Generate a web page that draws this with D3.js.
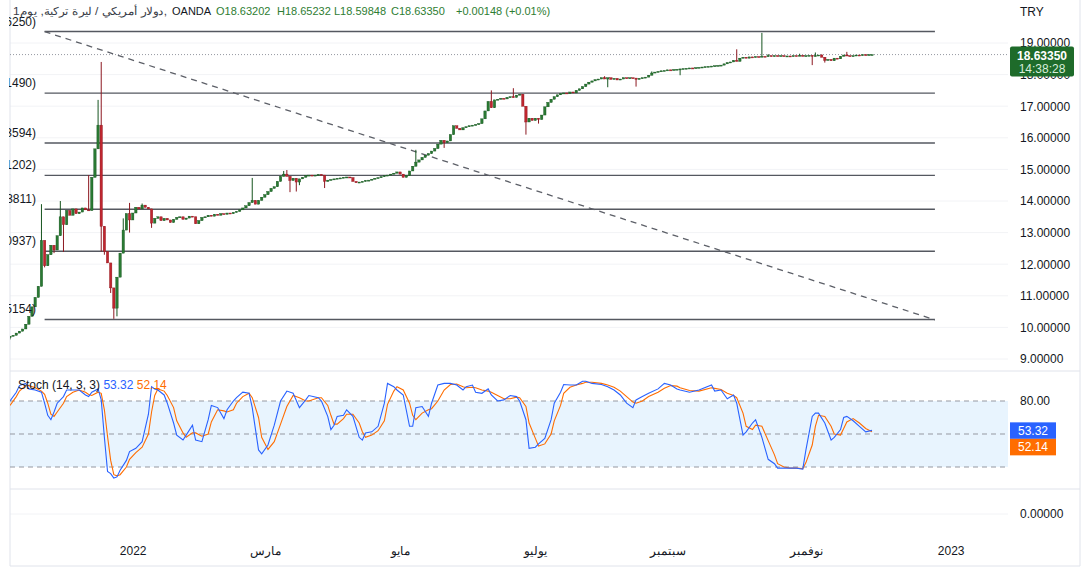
<!DOCTYPE html>
<html>
<head>
<meta charset="utf-8">
<script src="https://cdn.jsdelivr.net/npm/d3@7"></script>
<style>
  body { margin: 0; background: #fff; }
  svg { display: block; font-family: "Liberation Sans", Arial, sans-serif; }
</style>
</head>
<body>
<div id="chart"></div>
<script>
// daily USD/TRY candles, bar 0 = early Nov 2021, last bar = today
const firstOpen = 9.68;
const closes = [
  9.72, 9.75, 9.82, 9.88, 9.95, 10.10, 10.35, 10.65, 10.95, 11.30,
  12.75, 11.95, 12.30, 12.60, 12.45, 12.90, 13.50, 13.25, 13.70, 13.55,
  13.75, 13.60, 13.65, 13.78, 13.72, 13.70, 14.75, 15.65, 16.40, 13.20,
  12.40, 12.04, 11.25, 10.61, 11.59, 12.35, 13.08, 13.60, 13.40, 13.62,
  13.80, 13.75, 13.87, 13.80, 13.75, 13.30, 13.45, 13.50, 13.38, 13.45,
  13.40, 13.32, 13.42, 13.48, 13.50, 13.42, 13.46, 13.52, 13.50, 13.28,
  13.38, 13.48, 13.50, 13.55, 13.52, 13.58, 13.55, 13.60, 13.58, 13.62,
  13.60, 13.64, 13.67, 13.72, 13.78, 13.85, 13.95, 14.02, 13.90, 14.02,
  14.12, 14.20, 14.30, 14.40, 14.45, 14.62, 14.78, 14.85, 14.78, 14.65,
  14.72, 14.60, 14.70, 14.75, 14.80, 14.82, 14.80, 14.82, 14.84, 14.82,
  14.62, 14.66, 14.68, 14.70, 14.72, 14.73, 14.75, 14.76, 14.74, 14.62,
  14.58, 14.60, 14.62, 14.65, 14.66, 14.69, 14.72, 14.74, 14.77, 14.80,
  14.82, 14.85, 14.88, 14.92, 14.85, 14.75, 14.80, 14.95, 15.10, 15.23,
  15.30, 15.38, 15.45, 15.50, 15.58, 15.66, 15.80, 15.92, 15.85, 15.90,
  16.10, 16.38, 16.30, 16.25, 16.32, 16.35, 16.38, 16.40, 16.42, 16.45,
  16.60, 16.85, 17.15, 16.95, 17.20, 17.22, 17.25, 17.23, 17.28, 17.30,
  17.28, 17.35, 17.38, 17.00, 16.50, 16.62, 16.55, 16.62, 16.58, 16.72,
  16.98, 17.12, 17.22, 17.30, 17.36, 17.40, 17.42, 17.40, 17.45, 17.42,
  17.50, 17.55, 17.62, 17.70, 17.76, 17.80, 17.84, 17.86, 17.90, 17.86,
  17.90, 17.85, 17.88, 17.83, 17.86, 17.90, 17.88, 17.90, 17.89, 17.85,
  17.88, 17.90, 17.92, 17.98, 18.05, 18.08, 18.10, 18.12, 18.13, 18.15,
  18.14, 18.16, 18.17, 18.18, 18.19, 18.20, 18.21, 18.20, 18.22, 18.23,
  18.24, 18.25, 18.26, 18.27, 18.28, 18.29, 18.30, 18.34, 18.38, 18.40,
  18.45, 18.42, 18.52, 18.55, 18.52, 18.56, 18.55, 18.57, 18.56, 18.58,
  18.57, 18.60, 18.58, 18.60, 18.59, 18.60, 18.58, 18.59, 18.58, 18.60,
  18.59, 18.61, 18.58, 18.60, 18.61, 18.58, 18.60, 18.62, 18.55, 18.45,
  18.48, 18.44, 18.52, 18.50, 18.58, 18.62, 18.60, 18.58, 18.60, 18.62,
  18.61, 18.63, 18.62, 18.632, 18.6335
];
// [bar, high] and [bar, low] where the wick sticks out of the body
const highWicks = [
  [10, 13.9], [16, 14.0], [25, 14.82], [28, 17.2], [29, 18.4], [36, 13.45], [38, 13.94],
  [42, 13.92], [77, 14.73], [87, 14.95], [88, 14.98], [129, 15.62], [153, 17.5], [160, 17.57],
  [189, 17.95], [204, 18.1], [231, 18.8], [239, 19.32], [241, 18.65], [251, 18.66],
  [256, 18.7], [258, 18.64], [266, 18.72]
];
const lowWicks = [
  [0, 9.62], [11, 11.9], [14, 12.35], [17, 12.39], [29, 12.4], [30, 12.3], [32, 11.09],
  [33, 10.27], [34, 10.35], [38, 13.0], [45, 13.15], [89, 14.28], [91, 14.3], [92, 14.5],
  [100, 14.41], [138, 15.68], [164, 16.1], [168, 16.45], [190, 17.6], [199, 17.62],
  [213, 17.98], [255, 18.3], [259, 18.38]
];

const levels = [19.3625, 17.4149, 15.83594, 14.81202, 13.73811, 12.40937, 10.25154];
const levelBars = [11, 294];
const trendLine = [[11, 19.36], [294, 10.24]];

const priceTicks = [9, 10, 11, 12, 13, 14, 15, 16, 17, 18, 19];
const timeTickBars = [39, 81, 124, 167, 209, 253, 299];
const timeTickLabels = ["2022", "مارس", "مايو", "يوليو", "سبتمبر", "نوفمبر", "2023"];

// Stoch (14, 3, 3)
const stochBars = [
  0, 2, 3, 5, 6, 8, 10, 11, 12, 13,
  14, 15, 17, 18, 20, 22, 24, 25, 26, 28,
  29, 30, 31, 32, 33, 34, 35, 37, 38, 40,
  42, 44, 45, 46, 47, 49, 50, 52, 53, 55,
  56, 58, 59, 61, 63, 64, 66, 68, 69, 71,
  72, 74, 76, 77, 79, 80, 82, 84, 86, 88,
  90, 92, 94, 95, 98, 99, 101, 102, 103, 104,
  106, 107, 109, 111, 112, 113, 115, 117, 119, 120,
  122, 123, 125, 127, 128, 129, 131, 133, 134, 136,
  138, 140, 142, 144, 145, 147, 148, 150, 152, 153,
  155, 157, 159, 161, 162, 164, 165, 167, 168, 170,
  172, 173, 175, 176, 178, 180, 182, 183, 185, 188,
  190, 192, 194, 196, 198, 199, 201, 203, 206, 208,
  210, 212, 213, 216, 219, 223, 224, 226, 228, 230,
  231, 233, 234, 236, 237, 239, 241, 243, 244, 246,
  248, 250, 252, 253, 255, 256, 257, 259, 261, 262,
  264, 265, 266, 268, 270, 272, 274
];
const stochK = [
  80, 88, 94, 96, 91, 90, 88, 78, 67, 63,
  70, 78, 84, 90, 90, 90, 85.5, 84, 88, 91,
  81, 47, 16, 14, 10, 11, 17, 26, 34, 37,
  43, 68, 93, 91, 90, 85.5, 78, 60, 49, 44.5,
  49, 58, 44.5, 43, 63, 76, 74, 64, 72, 80,
  83, 88, 87, 74, 35.5, 32, 40, 58, 80, 89,
  87, 74, 81, 85, 83, 80, 66, 54, 58, 66,
  67, 72, 66, 47, 44.5, 51, 52, 57, 78, 96,
  93, 90, 85.5, 57, 57, 74, 75, 66, 78, 94.5,
  96, 96, 94.5, 90, 93, 94.5, 88, 87, 91, 85.5,
  80, 81, 85, 84, 80, 63, 37, 38, 41, 46,
  63, 78, 88, 95, 94.5, 94.5, 98, 98, 96, 95,
  93, 90, 85.5, 78, 74, 81, 84, 87, 91, 96,
  94.5, 91, 90, 88, 90, 94.5, 89, 90, 82, 85.5,
  78, 49, 52, 60, 63, 47, 27, 23, 19, 19,
  19, 19, 18, 35.5, 66, 69, 69, 60, 44.5, 47,
  54, 65, 66, 62, 57, 52, 53.32
];
const stochD = [
  76, 84, 89, 94, 94, 92, 89, 86, 78, 68,
  66, 70, 78, 84, 88, 90, 88, 86, 85, 88,
  87, 72, 48, 26, 13, 12, 13, 20, 27, 33,
  38, 50, 70, 85, 91, 89, 85, 74, 62, 51,
  47, 51, 51, 48, 50, 61, 72, 71, 70, 72,
  78, 84, 87, 83, 65, 47, 36, 43, 59, 75,
  85, 83, 80, 80, 83, 83, 76, 67, 59, 59,
  64, 68, 68, 60, 52, 47, 49, 53, 62, 77,
  89, 93, 90, 78, 67, 63, 69, 72, 73, 80,
  90, 95, 95.5, 93, 92, 92.5, 92, 90, 89, 88,
  85, 82, 82, 83.5, 83, 75, 60, 46, 39, 41,
  50, 62, 76, 87, 92.5, 94.5, 96, 97, 97, 96,
  94.5, 92.5, 89, 84, 79, 78, 80, 84, 88, 91.5,
  94, 93.5, 92, 89.5, 89, 92, 91.5, 90.5, 87, 85,
  83, 69, 57, 54, 58, 57, 44, 31, 23, 20,
  19, 19, 18.5, 24, 40, 57, 67, 66, 57, 50,
  49, 55, 61, 64, 60, 55, 52.14
];
const stochLevels = [80, 50, 20];

const W = 1090, H = 571;
const green = "#2a7a33", greenEdge = "#16541f";
const red = "#c0262f", redEdge = "#8c1820";
const textColor = "#131722", lineGrey = "#e0e3eb";

const svg = d3.select("#chart").append("svg")
    .attr("width", W)
    .attr("height", H);

const x = d3.scaleLinear().domain([0, 274]).range([10, 872]);
const y = d3.scaleLinear().domain([9, 19]).range([359, 43]);
const ys = d3.scaleLinear().domain([0, 100]).range([489, 379]);
const yz = d3.scaleLinear().domain([-1, 1]).range([539, 489]);

const hiMap = new Map(highWicks), loMap = new Map(lowWicks);
const candles = closes.map((c, i) => {
    const o = i === 0 ? firstOpen : closes[i - 1];
    const h = Math.max(o, c, hiMap.get(i) || 0);
    const l = Math.min(o, c, loMap.get(i) || 99);
    return { i, o, c, h, l };
});

// clip regions
const defs = svg.append("defs");
defs.append("clipPath").attr("id", "mainClip").append("rect")
    .attr("x", 10).attr("y", 0).attr("width", 998).attr("height", 371);
defs.append("clipPath").attr("id", "stochClip").append("rect")
    .attr("x", 10).attr("y", 372).attr("width", 998).attr("height", 117);
defs.append("clipPath").attr("id", "labelClip").append("rect")
    .attr("x", 9).attr("y", 0).attr("width", 60).attr("height", 371);

// grid lines
svg.append("g").selectAll("line")
    .data(priceTicks)
    .enter().append("line")
        .attr("x1", 10).attr("x2", 1008)
        .attr("y1", d => y(d)).attr("y2", d => y(d))
        .attr("stroke", "#f2f3f6");
svg.append("line").attr("x1", 10).attr("x2", 1008)
    .attr("y1", yz(0)).attr("y2", yz(0)).attr("stroke", "#f2f3f6");

// pane borders
const borders = [
    [10, 0, 10, 566], [1080, 0, 1080, 566], [10, 566, 1080, 566],
    [10, 371, 1080, 371], [10, 489, 1080, 489]
];
svg.append("g").selectAll("line")
    .data(borders)
    .enter().append("line")
        .attr("x1", d => d[0]).attr("y1", d => d[1])
        .attr("x2", d => d[2]).attr("y2", d => d[3])
        .attr("stroke", lineGrey);

const main = svg.append("g").attr("clip-path", "url(#mainClip)");

// horizontal level lines
main.append("g").selectAll("line")
    .data(levels)
    .enter().append("line")
        .attr("x1", x(levelBars[0])).attr("x2", x(levelBars[1]))
        .attr("y1", d => y(d)).attr("y2", d => y(d))
        .attr("stroke", "#555860")
        .attr("stroke-width", 1.4);

// level labels, cut by the left edge like in the original
svg.append("g").attr("clip-path", "url(#labelClip)")
    .selectAll("text")
    .data(levels)
    .enter().append("text")
        .attr("x", 36)
        .attr("y", d => y(d) - 6)
        .attr("text-anchor", "end")
        .attr("font-size", 12)
        .attr("fill", textColor)
        .text(d => "(" + d3.format(".5f")(d) + ")");

// dashed trend line
main.append("line")
    .attr("x1", x(trendLine[0][0])).attr("y1", y(trendLine[0][1]))
    .attr("x2", x(trendLine[1][0])).attr("y2", y(trendLine[1][1]))
    .attr("stroke", "#5d6068")
    .attr("stroke-width", 1.3)
    .attr("stroke-dasharray", "6,5");

// last price dotted line
const last = candles[candles.length - 1];
main.append("line")
    .attr("x1", 10).attr("x2", 1008)
    .attr("y1", y(last.c)).attr("y2", y(last.c))
    .attr("stroke", "#9598a1")
    .attr("stroke-dasharray", "1,2");

// candles
const cg = main.append("g");
cg.selectAll("line")
    .data(candles)
    .enter().append("line")
        .attr("x1", d => x(d.i)).attr("x2", d => x(d.i))
        .attr("y1", d => y(d.h)).attr("y2", d => y(d.l))
        .attr("stroke", d => d.c >= d.o ? greenEdge : redEdge)
        .attr("stroke-width", 1);
cg.selectAll("rect")
    .data(candles)
    .enter().append("rect")
        .attr("x", d => x(d.i) - 1.2)
        .attr("width", 2.4)
        .attr("y", d => y(Math.max(d.o, d.c)))
        .attr("height", d => Math.max(1, Math.abs(y(d.o) - y(d.c))))
        .attr("fill", d => d.c >= d.o ? green : red)
        .attr("stroke", d => d.c >= d.o ? greenEdge : redEdge)
        .attr("stroke-width", 0.4);

// price axis
function styleAxis(g) {
    g.select(".domain").remove();
    g.attr("font-family", null);
    g.selectAll("text").attr("font-size", 12).attr("fill", textColor);
}
svg.append("g")
    .attr("transform", "translate(1008,0)")
    .call(d3.axisRight(y).tickValues(priceTicks).tickSize(0).tickPadding(12)
        .tickFormat(d3.format(".5f")))
    .call(styleAxis);

svg.append("text")
    .attr("x", 1020).attr("y", 16)
    .attr("font-size", 12).attr("fill", textColor)
    .text("TRY");

// last price badge
const badgeY = y(last.c) - 8;
svg.append("rect")
    .attr("x", 1010).attr("y", badgeY)
    .attr("width", 64).attr("height", 30)
    .attr("rx", 2)
    .attr("fill", "#1e6b2a");
svg.append("text")
    .attr("x", 1042).attr("y", badgeY + 13)
    .attr("text-anchor", "middle")
    .attr("font-size", 12).attr("font-weight", "bold")
    .attr("fill", "#fff")
    .text(d3.format(".5f")(last.c));
svg.append("text")
    .attr("x", 1042).attr("y", badgeY + 26)
    .attr("text-anchor", "middle")
    .attr("font-size", 12)
    .attr("fill", "#d9eedc")
    .text("14:38:28");

// header
const header = [
    { x: 13, t: "دولار أمريكي / ليرة تركية, يوم1,", c: "#3a3e48", w: 154 },
    { x: 172, t: "OANDA", c: textColor },
    { x: 216, t: "O18.63202", c: "#2e7d32" },
    { x: 277, t: "H18.65232", c: "#2e7d32" },
    { x: 334, t: "L18.59848", c: "#2e7d32" },
    { x: 391, t: "C18.63350", c: "#2e7d32" },
    { x: 456, t: "+0.00148 (+0.01%)", c: "#2e7d32" }
];
svg.append("g").selectAll("text")
    .data(header)
    .enter().append("text")
        .attr("x", d => d.x).attr("y", 15)
        .attr("font-size", 11)
        .attr("fill", d => d.c)
        .attr("textLength", d => d.w || null)
        .attr("lengthAdjust", d => d.w ? "spacingAndGlyphs" : null)
        .text(d => d.t);

// stochastic pane
const sp = svg.append("g").attr("clip-path", "url(#stochClip)");
sp.append("rect")
    .attr("x", 10).attr("width", 998)
    .attr("y", ys(80)).attr("height", ys(20) - ys(80))
    .attr("fill", "rgba(33,150,243,0.1)");
sp.selectAll("line.lvl")
    .data(stochLevels)
    .enter().append("line")
        .attr("class", "lvl")
        .attr("x1", 10).attr("x2", 1008)
        .attr("y1", d => ys(d)).attr("y2", d => ys(d))
        .attr("stroke", "#9598a1")
        .attr("stroke-dasharray", "5,4");

const lineK = d3.line().x((d, i) => x(stochBars[i])).y(d => ys(d));
sp.append("path").datum(stochD)
    .attr("d", lineK)
    .attr("fill", "none").attr("stroke", "#ff6d00").attr("stroke-width", 1.1);
sp.append("path").datum(stochK)
    .attr("d", lineK)
    .attr("fill", "none").attr("stroke", "#2962ff").attr("stroke-width", 1.1);

const legend = svg.append("text").attr("x", 18).attr("y", 389).attr("font-size", 12);
legend.append("tspan").attr("fill", textColor).text("Stoch (14, 3, 3)  ");
legend.append("tspan").attr("fill", "#2962ff").text(d3.format(".2f")(stochK[stochK.length - 1]) + "  ");
legend.append("tspan").attr("fill", "#ff6d00").text(d3.format(".2f")(stochD[stochD.length - 1]));

svg.append("g")
    .attr("transform", "translate(1008,0)")
    .call(d3.axisRight(ys).tickValues([80]).tickSize(0).tickPadding(12)
        .tickFormat(d3.format(".2f")))
    .call(styleAxis);

// value badges for %K and %D
const kY = ys(stochK[stochK.length - 1]) - 8;
const badges = [
    { v: stochK[stochK.length - 1], c: "#2962ff", y: kY },
    { v: stochD[stochD.length - 1], c: "#ff6d00", y: kY + 16.5 }
];
const bg = svg.append("g").selectAll("g")
    .data(badges)
    .enter().append("g");
bg.append("rect")
    .attr("x", 1010).attr("y", d => d.y)
    .attr("width", 46).attr("height", 16.5)
    .attr("fill", d => d.c);
bg.append("text")
    .attr("x", 1033).attr("y", d => d.y + 12.5)
    .attr("text-anchor", "middle")
    .attr("font-size", 12)
    .attr("fill", "#fff")
    .text(d => d3.format(".2f")(d.v));

// empty bottom pane scale
svg.append("g")
    .attr("transform", "translate(1008,0)")
    .call(d3.axisRight(yz).tickValues([0]).tickSize(0).tickPadding(12)
        .tickFormat(d3.format(".5f")))
    .call(styleAxis);

// time axis
svg.append("g")
    .attr("transform", "translate(0,539)")
    .call(d3.axisBottom(x).tickValues(timeTickBars).tickSize(0).tickPadding(7)
        .tickFormat((d, i) => timeTickLabels[i]))
    .call(styleAxis);
</script>
</body>
</html>
